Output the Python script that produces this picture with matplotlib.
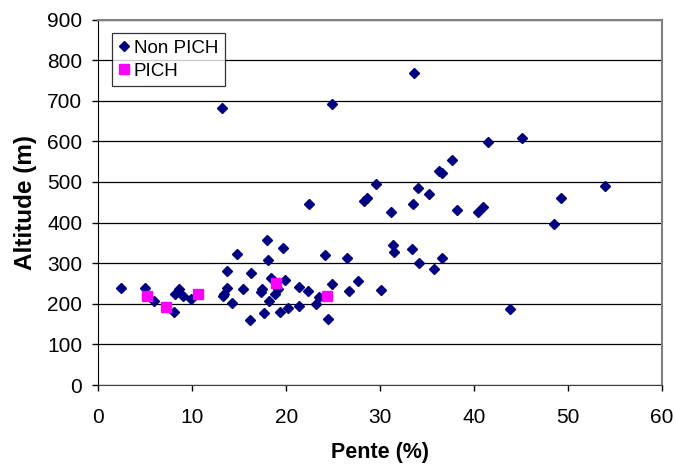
import matplotlib.pyplot as plt
import numpy as np

plt.rcParams['font.family'] = ['Liberation Sans', 'DejaVu Sans']

# Non PICH points (pente %, altitude m)
non_pich_pente = [2.45, 4.94, 5.9, 8.03, 8.2, 8.6, 9.05, 9.84, 13.28, 13.35,
                  13.74, 13.74, 14.8, 14.27, 15.4, 16.16, 16.3, 17.93, 18.07, 19.7,
                  17.36, 17.47, 17.65, 18.4, 18.15, 18.85, 19.14, 19.3, 19.88, 20.2,
                  21.37, 21.34, 22.3, 24.18, 23.18, 23.5, 24.4, 24.85, 26.45, 26.7,
                  27.6, 30.1, 31.4, 31.45, 33.4, 34.1, 35.75, 36.57, 13.14, 24.9,
                  33.6, 22.47, 28.3, 28.65, 29.6, 31.17, 33.5, 34.0, 35.2, 36.3,
                  36.57, 37.67, 38.2, 40.47, 40.94, 41.47, 45.1, 43.8, 48.46, 49.2,
                  53.9]
non_pich_alt = [239, 239, 208, 179, 224, 236, 219, 213, 219, 224,
                240, 282, 323, 202, 237, 159, 275, 358, 308, 337,
                230, 237, 178, 264, 207, 225, 236, 179, 259, 190,
                195, 241, 231, 321, 199, 217, 163, 248, 312, 232,
                257, 234, 345, 328, 335, 300, 285, 314, 681, 692,
                768, 447, 453, 460, 496, 427, 446, 485, 471, 527,
                522, 555, 432, 427, 438, 598, 609, 186, 397, 461,
                491]

# PICH points
pich_pente = [5.15, 7.2, 10.65, 18.93, 24.3]
pich_alt = [220, 193, 224, 250, 220]

fig = plt.figure(figsize=(6.75, 4.66), dpi=100)
ax = fig.add_axes([0.1456, 0.1738, 0.8351, 0.7842])

ax.plot(non_pich_pente, non_pich_alt, linestyle='none', marker='D', markersize=4.8,
        color='#000080', label='Non PICH', zorder=3)
ax.plot(pich_pente, pich_alt, linestyle='none', marker='s', markersize=7,
        color='#FF00FF', label='PICH', zorder=4)

ax.set_xlim(0, 60)
ax.set_ylim(0, 900)
ax.set_xticks(np.arange(0, 61, 10))
ax.set_yticks(np.arange(0, 901, 100))
ax.yaxis.grid(True, color='black', linewidth=0.9)
ax.set_axisbelow(True)

for side in ['top', 'right']:
    ax.spines[side].set_color('#808080')
    ax.spines[side].set_linewidth(1.5)
ax.spines['left'].set_color('black')
ax.spines['bottom'].set_color('#404040')

ax.tick_params(axis='both', labelsize=15, direction='out', length=4.5, width=1)
ax.tick_params(axis='x', pad=12)
ax.tick_params(axis='y', pad=7)
ax.set_xlabel('Pente (%)', fontsize=15.5, fontweight='bold', labelpad=11)
ax.set_ylabel('Altitude (m)', fontsize=17.5, fontweight='bold', labelpad=7)

leg = ax.legend(loc='upper left', bbox_to_anchor=(0.0248, 0.9625), borderaxespad=0,
                fontsize=13.5, frameon=True, fancybox=False, edgecolor='black',
                handletextpad=0.2, handlelength=0.6, borderpad=0.35,
                labelspacing=0.3)
leg.get_frame().set_linewidth(0.9)

plt.savefig('out.png', dpi=100)
